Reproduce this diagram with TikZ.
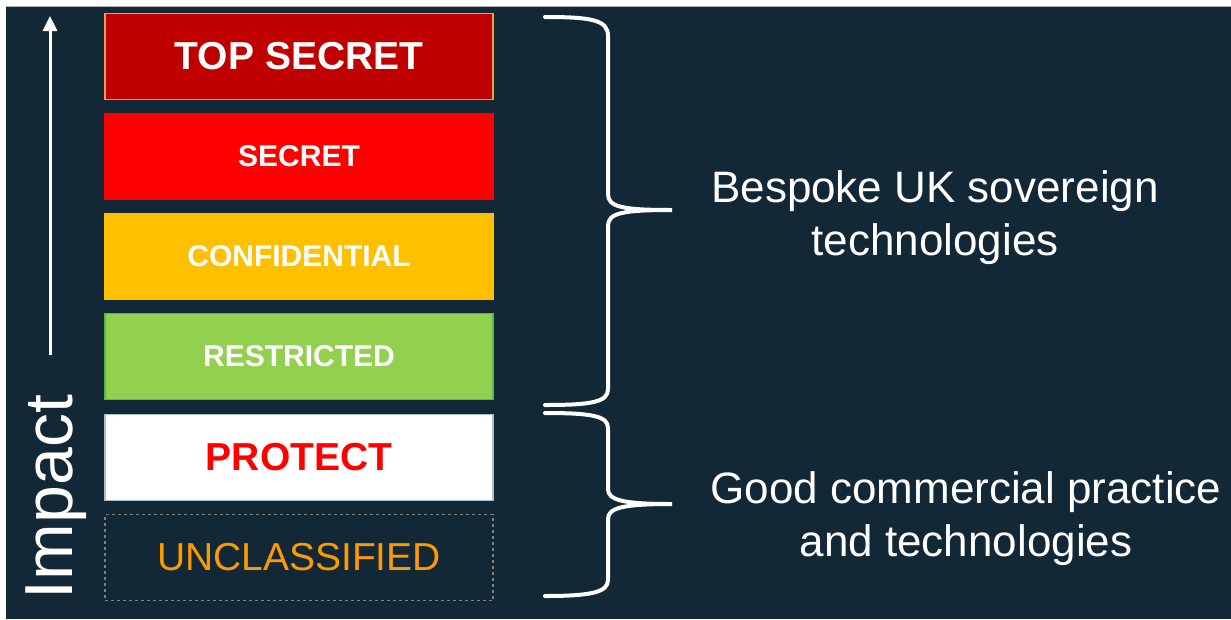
\documentclass[tikz,border=0pt]{standalone}
\usepackage{fontspec}
\setmainfont{Liberation Sans}
\usepackage{xcolor}
\usetikzlibrary{positioning,calc,arrows.meta}

\definecolor{navy}{RGB}{18,40,54}
\definecolor{darkred}{RGB}{192,0,0}
\definecolor{amber}{RGB}{255,192,0}
\definecolor{lime}{RGB}{146,208,80}
\definecolor{limeedge}{RGB}{90,184,72}
\definecolor{goldedge}{RGB}{240,160,70}
\definecolor{steeledge}{RGB}{170,190,205}
\definecolor{orangetxt}{RGB}{255,153,0}

\tikzset{
  level/.style={minimum width=388pt, minimum height=86pt, inner sep=0pt, outer sep=0pt,
    line width=1.5pt, text=white, font=\fontsize{30}{30}\selectfont\bfseries},
  bigbold/.style={font=\fontsize{39}{39}\selectfont\bfseries},
  bigplain/.style={font=\fontsize{39}{39}\selectfont},
  brace/.style={white, line width=4pt, line cap=round},
  side/.style={white, align=center, font=\fontsize{44}{53}\selectfont},
}

\begin{document}
\begin{tikzpicture}[x=1pt, y=-1pt, node distance=14pt]
    \useasboundingbox (0,0) rectangle (1231,619);
    \fill[navy] (6,7) rectangle (1231,619);
    \draw[gray!60, line width=1pt] (6,6.5) -- (1231,6.5);

    % classification levels
    \node[level, fill=darkred, draw=goldedge, bigbold] (topsecret) at (299,56.5) {TOP SECRET};
    \node[level, fill=red, draw=red, below=of topsecret] (secret) {SECRET};
    \node[level, fill=amber, draw=amber, below=of secret] (confidential) {CONFIDENTIAL};
    \node[level, fill=lime, draw=limeedge, below=of confidential] (restricted) {RESTRICTED};
    \node[level, fill=white, draw=steeledge, text=red, bigbold, below=15pt of restricted] (protect) {PROTECT};
    \node[level, draw=gray, dashed, text=orangetxt, bigplain, below=of protect] (unclassified) {UNCLASSIFIED};

    % impact axis
    \node[white, rotate=90, anchor=base, font=\fontsize{68}{68}\selectfont] (impact) at (72,497) {Impact};
    \coordinate (impstart) at (50,355);
    \coordinate (imptip) at (50,16);
    \draw[white, line width=3pt, -{Triangle[width=14pt,length=15pt]}] (impstart) -- (imptip);

    % braces
    \draw[brace] (545,17) .. controls (592,17) and (608,20) .. (608,36) -- (608,194)
        .. controls (608,207) and (622,210) .. (672,210)
        .. controls (622,210) and (608,213) .. (608,226) -- (608,389)
        .. controls (608,402) and (592,405) .. (545,405);
    \draw[brace] (545,413) .. controls (592,413) and (608,416) .. (608,428) -- (608,489)
        .. controls (608,500) and (622,504) .. (672,504)
        .. controls (622,504) and (608,508) .. (608,519) -- (608,580)
        .. controls (608,592) and (592,596) .. (545,596);

    \node[side] (bespoke) at (935,218) {Bespoke UK sovereign\\technologies};
    \node[side] (commercial) at (966,519) {Good commercial practice\\and technologies};
\end{tikzpicture}
\end{document}
